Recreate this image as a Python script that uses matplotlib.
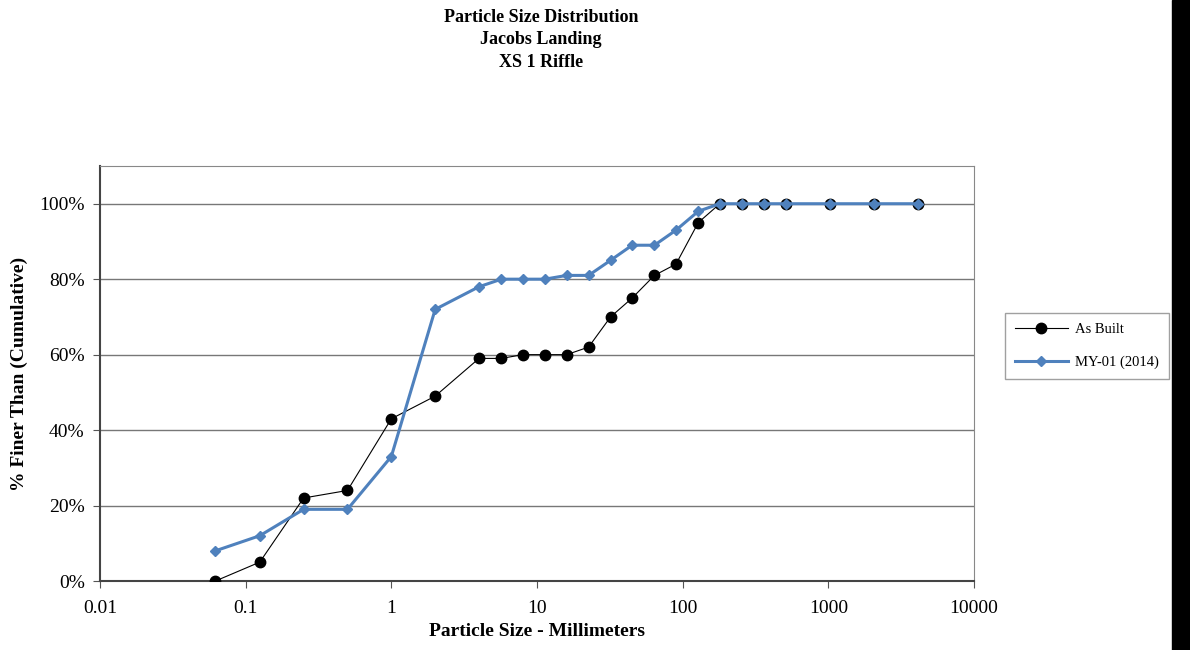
import numpy as np
import matplotlib.pyplot as plt
from matplotlib.patches import Rectangle
from matplotlib.ticker import FixedLocator, FuncFormatter

plt.rcParams['font.family'] = ['Liberation Serif', 'DejaVu Serif']

# sieve sizes (mm)
sizes = [0.062, 0.125, 0.25, 0.5, 1, 2, 4, 5.7, 8, 11.3, 16, 22.6, 32, 45, 64, 90,
         128, 180, 256, 362, 512, 1024, 2048, 4096]
as_built = [0, 5, 22, 24, 43, 49, 59, 59, 60, 60, 60, 62, 70, 75, 81, 84,
            95, 100, 100, 100, 100, 100, 100, 100]
my01 = [8, 12, 19, 19, 33, 72, 78, 80, 80, 80, 81, 81, 85, 89, 89, 93,
        98, 100, 100, 100, 100, 100, 100, 100]

x_ticks = [0.01, 0.1, 1, 10, 100, 1000, 10000]
x_labels = ['0.01', '0.1', '1', '10', '100', '1000', '10000']

fig = plt.figure(figsize=(11.9, 6.5), dpi=100)
ax = fig.add_axes([100/1190, 1 - 581/650, 874/1190, 415/650])

ax.plot(sizes, np.array(as_built) / 100, color='black', lw=0.8, marker='o', ms=7.5,
        label='As Built', zorder=3)
ax.plot(sizes, np.array(my01) / 100, color='#4F81BD', lw=2.2, marker='D', ms=5.5,
        label='MY-01 (2014)', zorder=4)

ax.set_xscale('log')
ax.set_xlim(0.01, 10000)
ax.set_ylim(0, 1.1)
ax.xaxis.set_major_locator(FixedLocator(x_ticks))
ax.xaxis.set_minor_locator(FixedLocator([]))
ax.set_xticklabels(x_labels)
ax.set_yticks(np.arange(0, 1.01, 0.2))
ax.yaxis.set_major_formatter(FuncFormatter(lambda v, p: f'{v*100:.0f}%'))
ax.tick_params(axis='both', labelsize=14, direction='out', length=5, color='#555555')
ax.tick_params(axis='x', pad=9)
ax.tick_params(axis='y', pad=6)
ax.grid(axis='y', color='#777777', lw=1)
ax.set_axisbelow(True)
for s in ['top', 'right']:
    ax.spines[s].set_color('#888888')
for s in ['left', 'bottom']:
    ax.spines[s].set_color('#444444')
    ax.spines[s].set_linewidth(1.5)

ax.set_xlabel('Particle Size - Millimeters', fontsize=14, fontweight='bold', labelpad=4)
ax.set_ylabel('% Finer Than (Cumulative)', fontsize=14, fontweight='bold', labelpad=8)

fig.text(541/1190, 1 - 40/650, 'Particle Size Distribution\nJacobs Landing\nXS 1 Riffle',
         ha='center', va='center', fontsize=13, fontweight='bold', linespacing=1.4)

leg = fig.legend(loc='center left', bbox_to_anchor=(1005/1190, 1 - 346/650),
                 fontsize=10.5, frameon=True, fancybox=False, edgecolor='#888888',
                 handlelength=3.6, handletextpad=0.5, labelspacing=1.3, borderpad=0.7,
                 borderaxespad=0)

# black strip on right edge
fig.patches.append(Rectangle((1172/1190, 0), 18/1190, 1, transform=fig.transFigure,
                             color='black', zorder=10))

fig.savefig('out.png', dpi=100)
